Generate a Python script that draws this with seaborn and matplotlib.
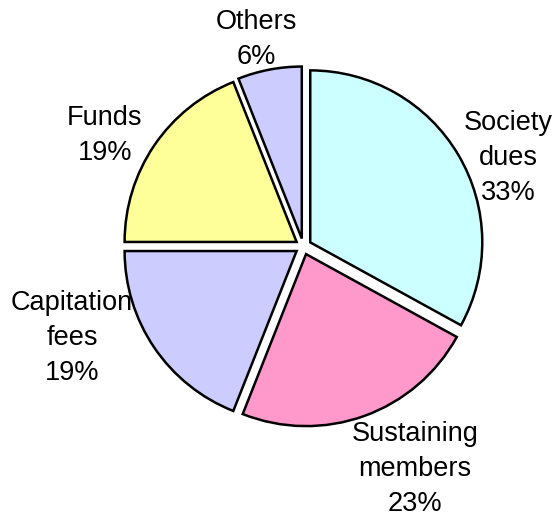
import matplotlib
matplotlib.use("Agg")
import matplotlib.pyplot as plt
import seaborn as sns

# ---- data ----
categories = ["Society\ndues", "Sustaining\nmembers", "Capitation\nfees", "Funds", "Others"]
shares = [33, 23, 19, 19, 6]
colors = ["#CCFFFF", "#FF99CC", "#CCCCFF", "#FFFF99", "#CCCCFF"]

# ---- layout (label centres in axes data units, radius = 1) ----
label_pos = [(1.190, 0.512), (0.649, -1.294), (-1.345, -0.532), (-1.153, 0.648), (-0.275, 1.206)]

sns.set_theme(style="white")
plt.rcParams["font.family"] = ["Liberation Sans", "DejaVu Sans"]

fig = plt.figure(figsize=(5.58, 5.18), dpi=100)
ax = fig.add_axes([0, 0, 1, 1])

ax.pie(shares, colors=colors, startangle=90, counterclock=False,
       explode=[0.047] * len(shares),
       wedgeprops=dict(edgecolor="black", linewidth=1.8))

for (x, y), name, v in zip(label_pos, categories, shares):
    ax.text(x, y, f"{name}\n{v}%", ha="center", va="center",
            multialignment="center", fontsize=19.5, linespacing=1.45, color="black")

cx, cy, r = 303.3, 246.5, 172.0
ax.set_aspect("auto")
ax.set_xlim(-cx / r, (558 - cx) / r)
ax.set_ylim((cy - 518) / r, cy / r)
ax.axis("off")

fig.savefig("out.png", dpi=100, facecolor="white")
